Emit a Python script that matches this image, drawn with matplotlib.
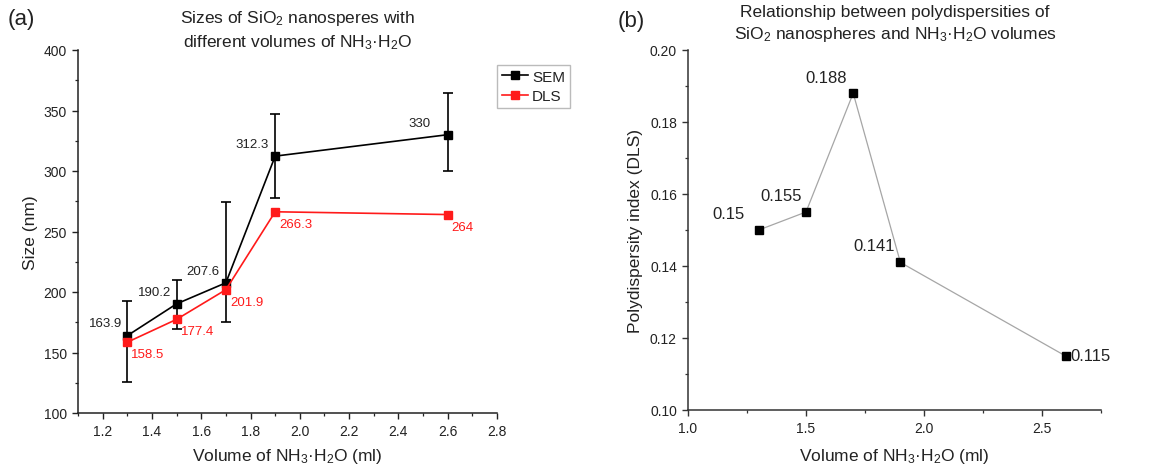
import matplotlib
matplotlib.use("Agg")
import matplotlib.pyplot as plt
from matplotlib.ticker import MultipleLocator, FormatStrFormatter
from matplotlib.lines import Line2D

plt.rcParams["font.family"] = ["Liberation Sans", "DejaVu Sans"]
plt.rcParams["mathtext.default"] = "regular"

# ---- data (a): particle size vs ammonia volume
volume = [1.3, 1.5, 1.7, 1.9, 2.6]
sem_size = [163.9, 190.2, 207.6, 312.3, 330]
sem_err_low = [38.5, 20.8, 32.6, 34.9, 30.3]
sem_err_high = [28.7, 19.7, 66.5, 35.1, 34.5]
dls_size = [158.5, 177.4, 201.9, 266.3, 264]
sem_labels = ["163.9", "190.2", "207.6", "312.3", "330"]
dls_labels = ["158.5", "177.4", "201.9", "266.3", "264"]

# ---- data (b): polydispersity index
pdi = [0.15, 0.155, 0.188, 0.141, 0.115]
pdi_labels = ["0.15", "0.155", "0.188", "0.141", "0.115"]

TXT = "#222222"
RED = "#ff1a1a"
fig = plt.figure(figsize=(11.66, 4.77), dpi=100)
W, H = 1166, 477


def axes_px(x0, x1, ytop, ybot):
    return fig.add_axes([x0 / W, 1 - ybot / H, (x1 - x0) / W, (ybot - ytop) / H])


def style(ax, spine_col="#222222"):
    for s in ("top", "right"):
        ax.spines[s].set_visible(False)
    for s in ("left", "bottom"):
        ax.spines[s].set_linewidth(1.1)
        ax.spines[s].set_color(spine_col)
    ax.tick_params(which="major", direction="out", length=4, width=1.0, pad=4,
                   labelsize=10, colors=spine_col, labelcolor=TXT)
    ax.tick_params(which="minor", direction="out", length=2.5, width=0.9,
                   colors=spine_col)


# ---------------- panel (a)
ax1 = axes_px(78, 497, 51, 414)
style(ax1)
ax1.errorbar(volume, sem_size, yerr=[sem_err_low, sem_err_high], color="black",
             lw=1.2, marker="s", ms=6, capsize=3.5, elinewidth=1.2, capthick=1.2,
             zorder=3)
ax1.plot(volume, dls_size, color=RED, lw=1.2, marker="s", ms=6, zorder=4)
sem_off = [(-22, 13), (-22, 12), (-23, 12), (-23, 12), (-28, 12)]
for x, y, t, o in zip(volume, sem_size, sem_labels, sem_off):
    ax1.annotate(t, (x, y), xytext=o, textcoords="offset pixels",
                 ha="center", va="center", fontsize=9.5, color=TXT)
for x, y, t in zip(volume, dls_size, dls_labels):
    ax1.annotate(t, (x, y), xytext=(4, -12), textcoords="offset pixels",
                 ha="left", va="center", fontsize=9.5, color=RED)
ax1.set_xlim(1.1, 2.8)
ax1.set_ylim(100, 400)
ax1.xaxis.set_major_locator(MultipleLocator(0.2))
ax1.xaxis.set_minor_locator(MultipleLocator(0.1))
ax1.yaxis.set_major_locator(MultipleLocator(50))
ax1.yaxis.set_minor_locator(MultipleLocator(25))
ax1.set_xticks([1.2, 1.4, 1.6, 1.8, 2.0, 2.2, 2.4, 2.6, 2.8])
ax1.xaxis.set_major_formatter(FormatStrFormatter("%.1f"))
ax1.set_xlabel("Volume of NH$_3$·H$_2$O (ml)", fontsize=12.5, color=TXT, labelpad=6)
ax1.set_ylabel("Size (nm)", fontsize=12.5, color=TXT, labelpad=4)

handles = [Line2D([], [], color="black", lw=1.2, marker="s", ms=6),
           Line2D([], [], color=RED, lw=1.2, marker="s", ms=6)]
leg = fig.legend(handles, ["SEM", "DLS"], loc="upper left",
                 bbox_to_anchor=(497 / W, 1 - 66 / H), fontsize=11, frameon=True,
                 fancybox=False, edgecolor="#aaaaaa", handlelength=1.7,
                 handletextpad=0.3, borderpad=0.3, labelspacing=0.35,
                 borderaxespad=0)
leg.get_frame().set_linewidth(1.0)
for txt in leg.get_texts():
    txt.set_color(TXT)

fig.text(298 / W, 1 - 18 / H, "Sizes of SiO$_2$ nanosperes with",
         ha="center", va="center", fontsize=12.5, color=TXT)
fig.text(298 / W, 1 - 43 / H, "different volumes of NH$_3$·H$_2$O",
         ha="center", va="center", fontsize=12.5, color=TXT)
fig.text(21 / W, 1 - 20 / H, "(a)", ha="center", va="center", fontsize=16, color=TXT)

# ---------------- panel (b)
ax2 = axes_px(688, 1101, 51, 411)
style(ax2, "#333333")
ax2.plot(volume, pdi, color="#a6a6a6", lw=0.9, marker="s", ms=5.5,
         mfc="black", mec="black", zorder=3)
pdi_off = [(-30, 16), (-25, 16.5), (-27, 16), (-26, 17)]
for x, y, t, o in zip(volume[:4], pdi[:4], pdi_labels[:4], pdi_off):
    ax2.annotate(t, (x, y), xytext=o, textcoords="offset pixels",
                 ha="center", va="center", fontsize=12, color=TXT)
ax2.annotate(pdi_labels[4], (volume[4], pdi[4]), xytext=(5, 0),
             textcoords="offset pixels", ha="left", va="center",
             fontsize=12, color=TXT)
ax2.set_xlim(1.0, 2.75)
ax2.set_ylim(0.10, 0.20)
ax2.xaxis.set_major_locator(MultipleLocator(0.5))
ax2.xaxis.set_minor_locator(MultipleLocator(0.25))
ax2.yaxis.set_major_locator(MultipleLocator(0.02))
ax2.yaxis.set_minor_locator(MultipleLocator(0.01))
ax2.yaxis.set_major_formatter(FormatStrFormatter("%.2f"))
ax2.set_xlabel("Volume of NH$_3$·H$_2$O (ml)", fontsize=12.5, color=TXT, labelpad=8)
ax2.set_ylabel("Polydispersity index (DLS)", fontsize=12.5, color=TXT, labelpad=5)

fig.text(895 / W, 1 - 13 / H, "Relationship between polydispersities of",
         ha="center", va="center", fontsize=12.5, color=TXT)
fig.text(895 / W, 1 - 35 / H, "SiO$_2$ nanospheres and NH$_3$·H$_2$O volumes",
         ha="center", va="center", fontsize=12.5, color=TXT)
fig.text(631 / W, 1 - 22 / H, "(b)", ha="center", va="center", fontsize=16, color=TXT)

fig.savefig("out.png", dpi=100)
